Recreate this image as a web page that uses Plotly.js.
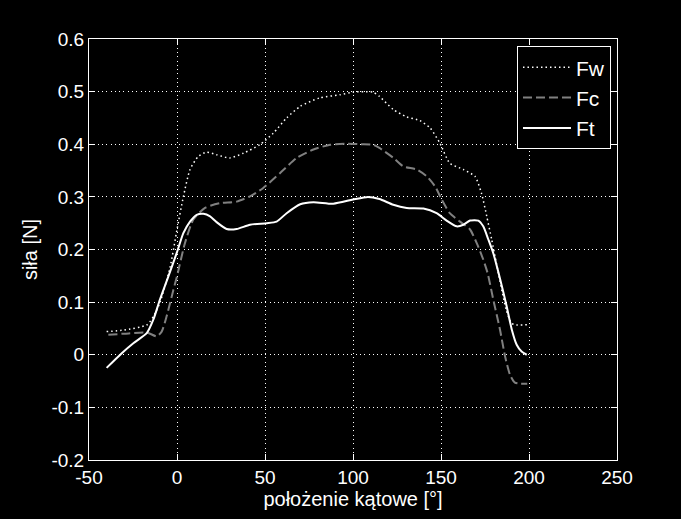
<!DOCTYPE html>
<html>
<head>
<meta charset="utf-8">
<script src="https://cdn.plot.ly/plotly-3.0.1.min.js"></script>
<style>html,body{margin:0;padding:0;background:#000;}#chart{width:681px;height:519px;}</style>
</head>
<body>
<div id="chart"></div>
<script>
// Fw (dotted white)
const fwX = [-40, -30, -17, -13, -9.7, -4, 0, 3.6, 7.4, 12.1, 16.9, 22.5, 30, 37.7, 47, 54.7, 62.3, 70, 81, 92.6, 100, 106, 111.5, 115, 122.9, 130.5, 138, 143.8, 149.4, 155, 162.7, 169.3, 173, 176, 178.8, 181.6, 187, 190, 192, 199];
const fwY = [0.044, 0.047, 0.057, 0.075, 0.099, 0.165, 0.238, 0.30, 0.352, 0.377, 0.385, 0.380, 0.374, 0.383, 0.399, 0.421, 0.45, 0.472, 0.488, 0.494, 0.499, 0.500, 0.499, 0.491, 0.466, 0.452, 0.445, 0.431, 0.402, 0.364, 0.352, 0.339, 0.307, 0.263, 0.219, 0.172, 0.086, 0.06, 0.057, 0.057];
// Fc (dashed gray)
const fcX = [-39, -30, -17, -11.5, -8.7, -5.9, -2, 0, 4.5, 9.3, 15.9, 24.4, 33.9, 41.5, 49, 58.5, 68, 77.5, 87, 96.4, 104, 111.5, 115, 123, 128.6, 136.2, 141.9, 146.6, 150.4, 155, 160.8, 166.5, 170.3, 174, 176.5, 179.7, 183.5, 186.4, 189.2, 192, 195, 199];
const fcY = [0.038, 0.040, 0.042, 0.035, 0.044, 0.073, 0.124, 0.149, 0.212, 0.257, 0.279, 0.288, 0.291, 0.301, 0.317, 0.345, 0.374, 0.39, 0.399, 0.401, 0.400, 0.399, 0.393, 0.374, 0.358, 0.352, 0.339, 0.32, 0.295, 0.269, 0.253, 0.238, 0.212, 0.181, 0.155, 0.105, 0.048, -0.003, -0.038, -0.053, -0.055, -0.055];
// Ft (solid white)
const ftX = [-40, -31.4, -24.8, -17.2, -13.4, -9.7, -4.9, 0, 3.6, 7.4, 11.2, 15, 18.8, 22.5, 28.2, 33.9, 41.5, 51, 56.6, 62.3, 70, 77.5, 88.8, 100, 108.5, 115, 122.9, 130.5, 140, 147.5, 153.2, 158.9, 162.7, 166.5, 171.2, 174, 176.9, 179.7, 183.5, 187.3, 190.2, 193, 195.8, 198.7];
const ftY = [-0.025, 0.003, 0.022, 0.041, 0.067, 0.105, 0.149, 0.195, 0.231, 0.253, 0.266, 0.268, 0.263, 0.252, 0.239, 0.239, 0.247, 0.25, 0.253, 0.269, 0.286, 0.29, 0.287, 0.295, 0.3, 0.296, 0.285, 0.279, 0.278, 0.269, 0.255, 0.244, 0.247, 0.255, 0.255, 0.244, 0.219, 0.193, 0.145, 0.092, 0.048, 0.019, 0.006, 0.0];

const seriesNames = ['Fw', 'Fc', 'Ft'];
const xTickVals = [-50, 0, 50, 100, 150, 200, 250];
const xTickText = ['-50', '0', '50', '100', '150', '200', '250'];
const yTickVals = [-0.2, -0.1, 0, 0.1, 0.2, 0.3, 0.4, 0.5, 0.6];
const yTickText = ['-0.2', '-0.1', '0', '0.1', '0.2', '0.3', '0.4', '0.5', '0.6'];

const font = 'Liberation Sans, Arial, Helvetica, sans-serif';

const traces = [
  {x: fwX, y: fwY, name: seriesNames[0], mode: 'lines', line: {color: '#ffffff', width: 1.5, dash: '1.5px,3px', shape: 'spline', smoothing: 0.6}},
  {x: fcX, y: fcY, name: seriesNames[1], mode: 'lines', line: {color: '#808080', width: 2, dash: '9px,4px', shape: 'spline', smoothing: 0.6}},
  {x: ftX, y: ftY, name: seriesNames[2], mode: 'lines', line: {color: '#ffffff', width: 2, shape: 'spline', smoothing: 0.6}}
];

const axisCommon = {
  showline: true, linecolor: '#ffffff', linewidth: 1, mirror: 'ticks',
  ticks: 'inside', ticklen: 6, tickcolor: '#ffffff', tickwidth: 1,
  showgrid: true, gridcolor: '#ffffff', griddash: '1px,3.3px', gridwidth: 1,
  zeroline: false, tickmode: 'array',
  tickfont: {family: font, size: 19, color: '#ffffff'}
};

const layout = {
  width: 681, height: 519,
  paper_bgcolor: '#000000', plot_bgcolor: '#000000',
  margin: {l: 89, r: 64, t: 39, b: 59},
  showlegend: true,
  legend: {
    x: 0.9886, y: 0.983, xanchor: 'right', yanchor: 'top',
    bgcolor: '#000000', bordercolor: '#ffffff', borderwidth: 1,
    font: {family: font, size: 21, color: '#ffffff'},
    itemwidth: 48,
    tracegroupgap: 0
  },
  xaxis: Object.assign({}, axisCommon, {
    range: [-50, 250], tickvals: xTickVals, ticktext: xTickText,
    title: {text: 'położenie kątowe [°]', font: {family: font, size: 20, color: '#ffffff'}, standoff: 4}
  }),
  yaxis: Object.assign({}, axisCommon, {
    range: [-0.2, 0.6], tickvals: yTickVals, ticktext: yTickText,
    title: {text: 'siła [N]', font: {family: font, size: 20, color: '#ffffff'}, standoff: 8}
  })
};

Plotly.newPlot('chart', traces, layout, {displayModeBar: false, staticPlot: true});
</script>
</body>
</html>
